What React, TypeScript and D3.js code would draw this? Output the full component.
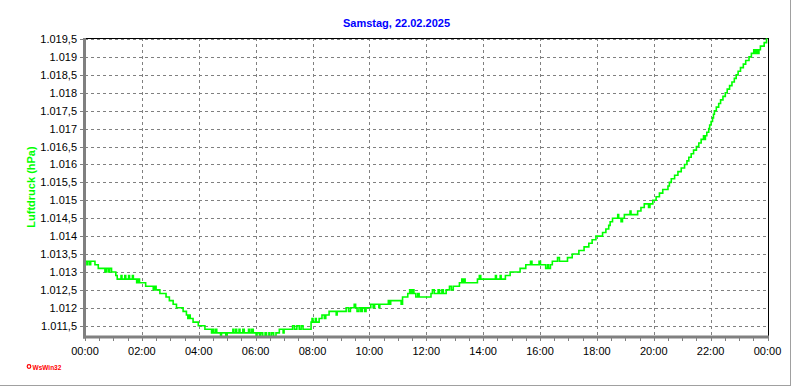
import * as d3 from 'd3';
import { useRef, useEffect } from 'react';

// Luftdruck 22.02.2025, Änderungspunkte (Minuten seit 00:00 / hPa)
const stepMinutes = [
    0, 4, 6, 10, 12, 21, 28, 42, 45, 49, 52, 56, 65, 68, 76, 78, 84, 86, 92, 94, 100, 102, 109, 112, 115,
    128, 144, 147, 150, 158, 171, 178, 186, 193, 207, 214, 217, 219, 222, 228, 239, 253, 267, 270, 272, 276, 278, 286, 288, 297, 300,
    312, 314, 318, 320, 325, 327, 333, 336, 345, 348, 352, 355, 361, 363, 368, 371, 375, 380, 383, 388, 390, 394, 398, 403, 410, 418, 420,
    438, 442, 447, 452, 456, 460, 477, 479, 481, 486, 488, 494, 500, 505, 508, 515, 530, 532, 551, 556, 560, 568, 571, 574, 578, 582, 585, 590, 593,
    603, 608, 611, 620, 622, 640, 642, 645, 667, 670, 681, 685, 688, 691, 694, 698, 702, 705, 730, 733, 737, 745, 748, 753, 756, 762, 769, 773, 777,
    790, 795, 797, 800, 802, 828, 832, 835, 866, 868, 876, 878, 887, 897, 918, 930, 940, 943, 958, 961, 972, 976, 978, 982, 986, 997, 1001, 1018,
    1028, 1042, 1053, 1063, 1070, 1078, 1092, 1099, 1105, 1108, 1113, 1124, 1126, 1131, 1134, 1138, 1150, 1152, 1166, 1173, 1180, 1189, 1192, 1198,
    1205, 1212, 1219, 1230, 1233, 1237, 1244, 1251, 1258, 1265, 1270, 1274, 1279, 1284, 1290, 1295, 1300, 1305, 1307, 1309, 1312, 1316, 1318, 1321, 1324, 1326, 1328, 1332,
    1337, 1341, 1346, 1351, 1355, 1360, 1365, 1370, 1374, 1378, 1383, 1389, 1394, 1401, 1406, 1411, 1414, 1417, 1420, 1422, 1425, 1433, 1438, 1440,
];

const stepHpa = [
    1013.3, 1013.2, 1013.3, 1013.2, 1013.3, 1013.2, 1013.1, 1013.0, 1013.1, 1013.0, 1013.1, 1013.0, 1012.9, 1012.8, 1012.9, 1012.8, 1012.9, 1012.8, 1012.9, 1012.8, 1012.9, 1012.8, 1012.7, 1012.8, 1012.7,
    1012.6, 1012.5, 1012.6, 1012.5, 1012.4, 1012.3, 1012.2, 1012.1, 1012.0, 1011.9, 1011.8, 1011.7, 1011.8, 1011.7, 1011.6, 1011.5, 1011.4, 1011.3, 1011.4, 1011.3, 1011.4, 1011.3, 1011.2, 1011.3, 1011.2, 1011.3,
    1011.4, 1011.3, 1011.4, 1011.3, 1011.4, 1011.3, 1011.4, 1011.3, 1011.4, 1011.3, 1011.4, 1011.3, 1011.2, 1011.3, 1011.2, 1011.3, 1011.2, 1011.3, 1011.2, 1011.3, 1011.2, 1011.3, 1011.2, 1011.3, 1011.4, 1011.3, 1011.4,
    1011.5, 1011.4, 1011.5, 1011.4, 1011.5, 1011.4, 1011.6, 1011.7, 1011.6, 1011.7, 1011.6, 1011.7, 1011.8, 1011.7, 1011.8, 1011.9, 1011.8, 1011.9, 1012.0, 1011.9, 1012.0, 1012.1, 1012.0, 1011.9, 1012.0, 1011.9, 1012.0, 1011.9, 1012.0,
    1012.1, 1012.0, 1012.1, 1012.0, 1012.1, 1012.2, 1012.1, 1012.2, 1012.1, 1012.3, 1012.4, 1012.5, 1012.4, 1012.5, 1012.4, 1012.3, 1012.4, 1012.3, 1012.4, 1012.5, 1012.4, 1012.5, 1012.4, 1012.5, 1012.4, 1012.5, 1012.6, 1012.5, 1012.6,
    1012.7, 1012.8, 1012.7, 1012.8, 1012.7, 1012.8, 1012.9, 1012.8, 1012.9, 1012.8, 1012.9, 1012.8, 1012.9, 1013.0, 1013.1, 1013.2, 1013.3, 1013.2, 1013.3, 1013.2, 1013.1, 1013.2, 1013.1, 1013.2, 1013.3, 1013.4, 1013.3, 1013.4,
    1013.5, 1013.6, 1013.7, 1013.8, 1013.9, 1014.0, 1014.1, 1014.2, 1014.3, 1014.4, 1014.5, 1014.6, 1014.5, 1014.4, 1014.5, 1014.6, 1014.7, 1014.6, 1014.7, 1014.8, 1014.9, 1014.8, 1014.9, 1015.0,
    1015.1, 1015.2, 1015.3, 1015.4, 1015.5, 1015.6, 1015.7, 1015.8, 1015.9, 1016.0, 1016.1, 1016.2, 1016.3, 1016.4, 1016.5, 1016.6, 1016.7, 1016.8, 1016.7, 1016.8, 1016.9, 1017.0, 1017.1, 1017.2, 1017.3, 1017.4, 1017.5, 1017.6,
    1017.7, 1017.8, 1017.9, 1018.0, 1018.1, 1018.2, 1018.3, 1018.4, 1018.5, 1018.6, 1018.7, 1018.8, 1018.9, 1019.0, 1019.1, 1019.2, 1019.1, 1019.2, 1019.1, 1019.2, 1019.3, 1019.4, 1019.5, 1019.5,
];

const yTicks = [1011.5, 1012, 1012.5, 1013, 1013.5, 1014, 1014.5, 1015, 1015.5, 1016, 1016.5, 1017, 1017.5, 1018, 1018.5, 1019, 1019.5];
const xTickMinutes = [0, 120, 240, 360, 480, 600, 720, 840, 960, 1080, 1200, 1320, 1440];
const xTickLabels = ['00:00', '02:00', '04:00', '06:00', '08:00', '10:00', '12:00', '14:00', '16:00', '18:00', '20:00', '22:00', '00:00'];

const title = 'Samstag, 22.02.2025';
const yLabel = 'Luftdruck (hPa)';

const FONT = 'Arial, "Liberation Sans", sans-serif';

const PressureChart = () => {
    const svgRef = useRef<SVGSVGElement | null>(null);

    useEffect(() => {
        const W = 792;
        const H = 387;
        const left = 85, right = 768, top = 38, bottom = 337;

        d3.select(svgRef.current).selectAll('*').remove();

        const svg = d3.select(svgRef.current)
            .attr('width', W)
            .attr('height', H);

        svg.append('rect').attr('width', W).attr('height', H).attr('fill', '#fff');

        const xScale = d3.scaleLinear().domain([0, 1440]).range([left, 767.5]);
        const yScale = d3.scaleLinear().domain([1011.5, 1019.5]).range([325.7, 39]);

        const de = d3.formatLocale({ decimal: ',', thousands: '.', grouping: [3], currency: ['', '€'] });
        const fmtInt = de.format(',d');
        const fmtDec = de.format(',.1f');
        const fmtY = (v: number) => (v % 1 === 0 ? fmtInt(v) : fmtDec(v));

        // grid
        const grid = svg.append('g')
            .attr('stroke', '#808080')
            .attr('stroke-width', 1)
            .attr('stroke-dasharray', '3,3')
            .attr('shape-rendering', 'crispEdges');

        grid.selectAll('line.h')
            .data(yTicks)
            .enter()
            .append('line')
            .attr('x1', left)
            .attr('x2', right)
            .attr('y1', d => Math.round(yScale(d)) + 0.5)
            .attr('y2', d => Math.round(yScale(d)) + 0.5);

        grid.selectAll('line.v')
            .data(xTickMinutes.slice(1, -1))
            .enter()
            .append('line')
            .attr('x1', d => Math.round(xScale(d)) + 0.5)
            .attr('x2', d => Math.round(xScale(d)) + 0.5)
            .attr('y1', top)
            .attr('y2', bottom);

        // frame: black top/right
        svg.append('line').attr('x1', left).attr('x2', right + 1).attr('y1', top + 0.5).attr('y2', top + 0.5)
            .attr('stroke', '#000').attr('shape-rendering', 'crispEdges');
        svg.append('line').attr('x1', right + 0.5).attr('x2', right + 0.5).attr('y1', top).attr('y2', bottom)
            .attr('stroke', '#000').attr('shape-rendering', 'crispEdges');

        // data line
        const points = stepMinutes.map((m, i) => [m, stepHpa[i]] as [number, number]);
        const line = d3.line<[number, number]>()
            .x(d => xScale(d[0]))
            .y(d => yScale(d[1]))
            .curve(d3.curveStepAfter);

        svg.append('path')
            .datum(points)
            .attr('d', line)
            .attr('fill', 'none')
            .attr('stroke', '#00ff00')
            .attr('stroke-width', 1.6);

        // gray axes
        svg.append('line').attr('x1', 84.5).attr('x2', 84.5).attr('y1', top).attr('y2', bottom + 1.5)
            .attr('stroke', '#808080').attr('stroke-width', 3);
        svg.append('line').attr('x1', 83).attr('x2', right + 1).attr('y1', bottom).attr('y2', bottom)
            .attr('stroke', '#808080').attr('stroke-width', 3);

        // y ticks
        svg.append('g').selectAll('line')
            .data(yTicks)
            .enter()
            .append('line')
            .attr('x1', 80)
            .attr('x2', 83)
            .attr('y1', d => Math.round(yScale(d)) + 0.5)
            .attr('y2', d => Math.round(yScale(d)) + 0.5)
            .attr('stroke', '#808080')
            .attr('shape-rendering', 'crispEdges');

        svg.append('g').selectAll('text')
            .data(yTicks)
            .enter()
            .append('text')
            .attr('x', 77)
            .attr('y', d => yScale(d) + 4)
            .attr('text-anchor', 'end')
            .attr('font-family', FONT)
            .attr('font-size', 11)
            .attr('fill', '#000')
            .text(d => fmtY(d));

        // x ticks every 30 min
        svg.append('g').selectAll('line')
            .data(d3.range(0, 1441, 30))
            .enter()
            .append('line')
            .attr('x1', d => Math.round(xScale(d)) + 0.5)
            .attr('x2', d => Math.round(xScale(d)) + 0.5)
            .attr('y1', bottom + 1)
            .attr('y2', bottom + 4)
            .attr('stroke', '#808080')
            .attr('shape-rendering', 'crispEdges');

        svg.append('g').selectAll('text')
            .data(xTickMinutes)
            .enter()
            .append('text')
            .attr('x', d => xScale(d))
            .attr('y', 355)
            .attr('text-anchor', 'middle')
            .attr('font-family', FONT)
            .attr('font-size', 11)
            .attr('fill', '#000')
            .text((d, i) => xTickLabels[i]);

        // title
        svg.append('text')
            .attr('x', 396.5)
            .attr('y', 27)
            .attr('text-anchor', 'middle')
            .attr('font-family', FONT)
            .attr('font-size', 11)
            .attr('font-weight', 'bold')
            .attr('fill', '#0000ff')
            .text(title);

        // y label
        svg.append('text')
            .attr('transform', 'translate(35,187) rotate(-90)')
            .attr('text-anchor', 'middle')
            .attr('font-family', FONT)
            .attr('font-size', 11)
            .attr('font-weight', 'bold')
            .attr('fill', '#00ff00')
            .text(yLabel);

        // WsWin32 logo
        svg.append('circle').attr('cx', 29).attr('cy', 366.5).attr('r', 1.8)
            .attr('fill', 'none').attr('stroke', '#ff0000').attr('stroke-width', 1.2);
        svg.append('text')
            .attr('x', 32.5)
            .attr('y', 369.5)
            .attr('font-family', FONT)
            .attr('font-size', 6.5)
            .attr('font-weight', 'bold')
            .attr('fill', '#ff0000')
            .text('WsWin32');

        // window frame
        svg.append('line').attr('x1', 790.5).attr('x2', 790.5).attr('y1', 0).attr('y2', 386)
            .attr('stroke', '#a0a0a0').attr('shape-rendering', 'crispEdges');
        svg.append('line').attr('x1', 0).attr('x2', 791).attr('y1', 385.5).attr('y2', 385.5)
            .attr('stroke', '#a0a0a0').attr('shape-rendering', 'crispEdges');
    }, []);

    return (
        <svg ref={svgRef} style={{ position: 'absolute', left: 0, top: 0, display: 'block' }}></svg>
    );
};

export default function App() {
    return <PressureChart />;
}
